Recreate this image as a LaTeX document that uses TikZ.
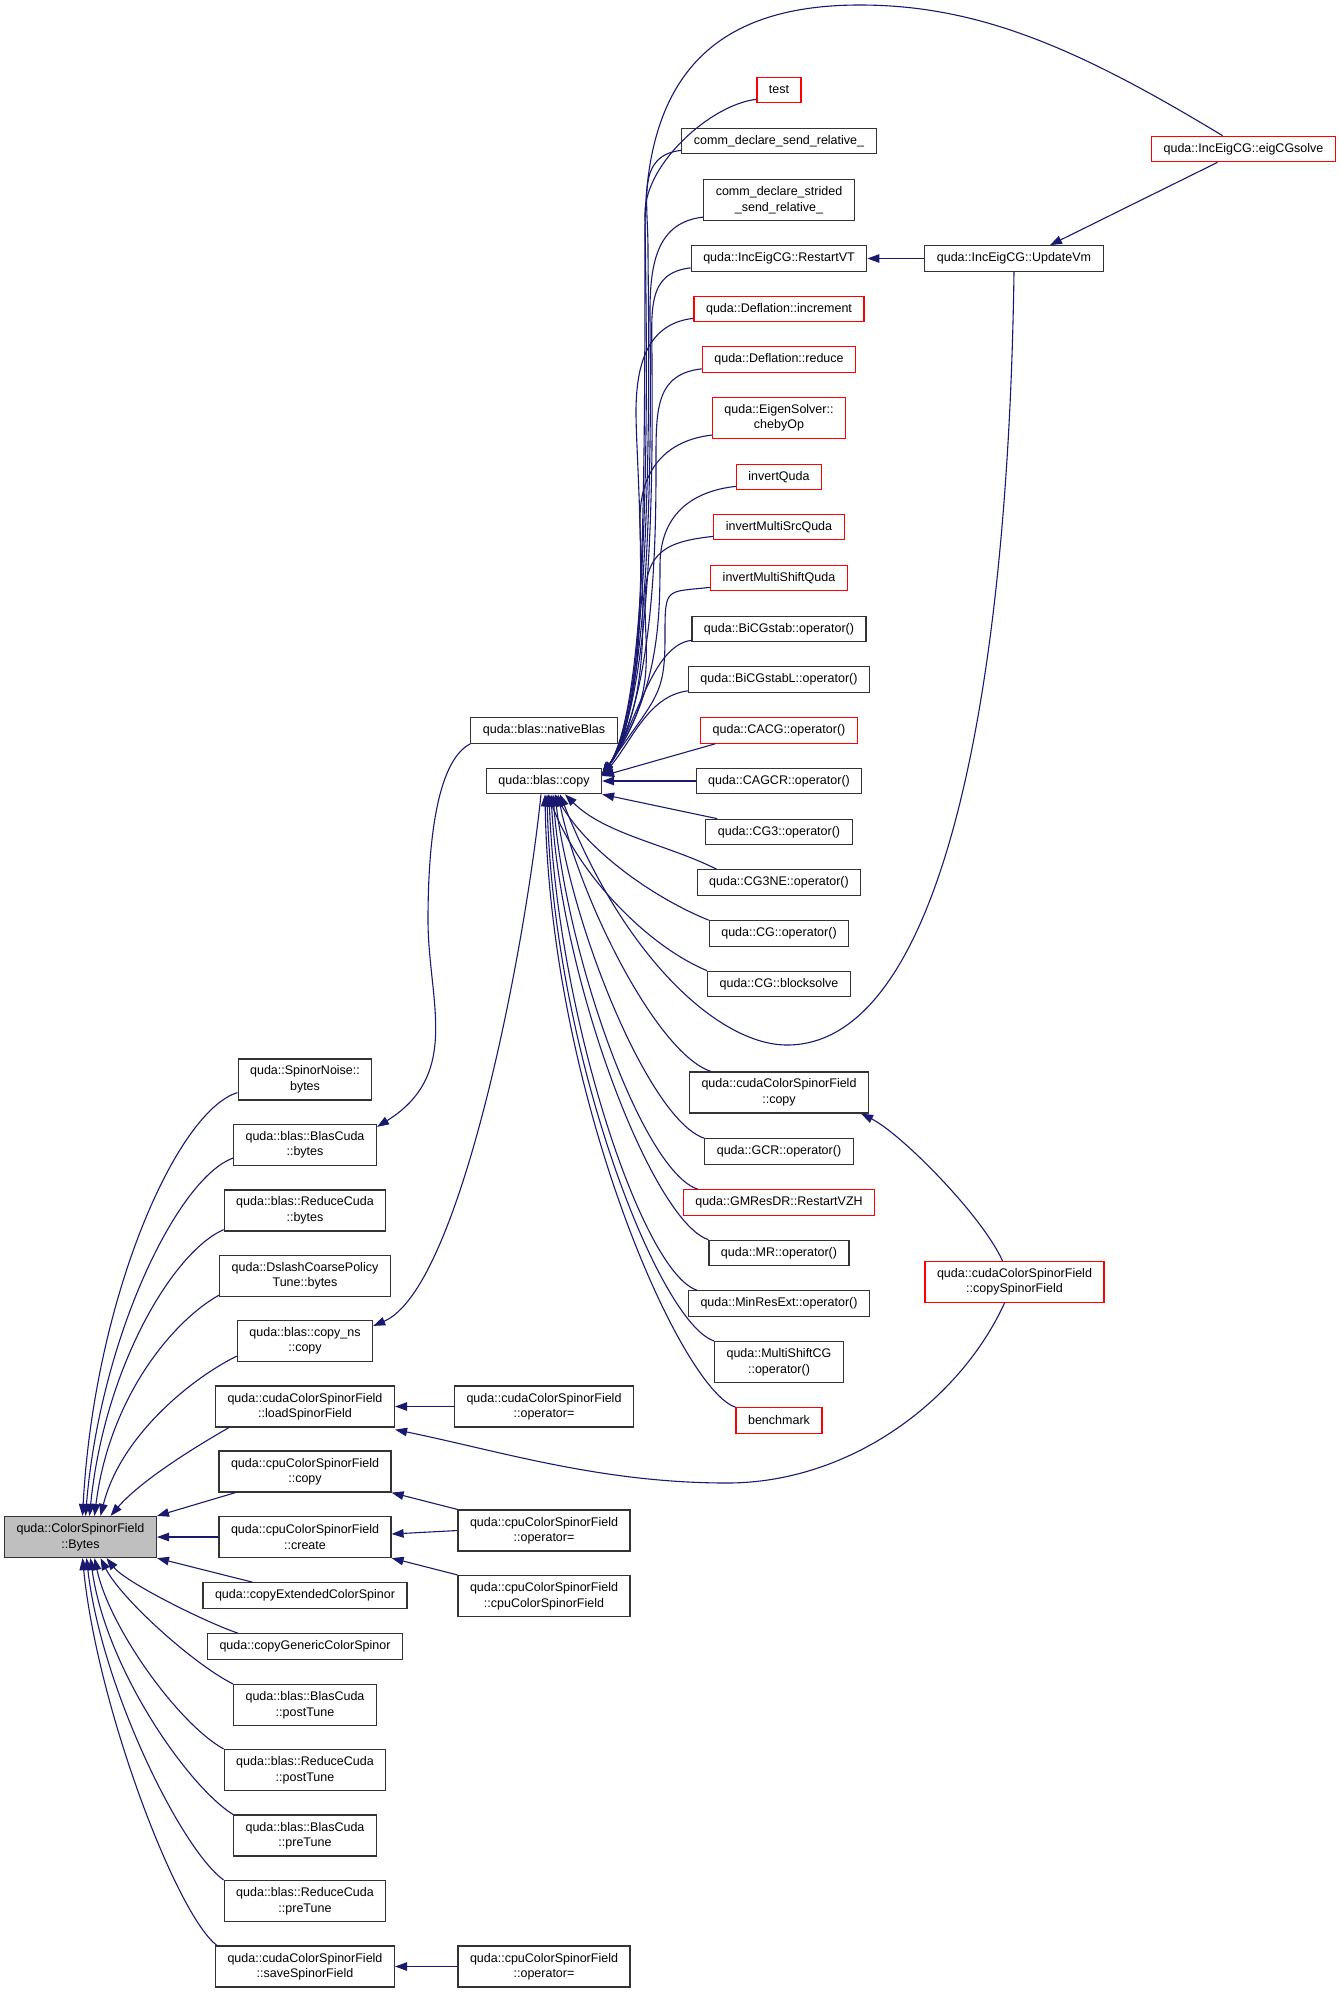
\documentclass[tikz,border=0pt]{standalone}
\usepackage{fontspec}
\setmainfont{Liberation Sans}
\usetikzlibrary{arrows.meta,calc}
\definecolor{edgeblue}{HTML}{191970}
\definecolor{rootgray}{HTML}{BFBFBF}

\begin{document}
\begin{tikzpicture}[x=1pt,y=-1pt,
    func/.style={draw=black!80, line width=1.2pt, minimum height=25.5pt, inner xsep=12pt, inner ysep=0pt,
      align=center, font=\fontsize{12.5}{15.5}\selectfont},
    func2/.style={func, minimum height=41pt},
    missing/.style={draw=red},
    focus/.style={fill=rootgray},
    calledge/.style={draw=edgeblue, line width=1.1pt, -{Triangle[length=12pt,width=8.5pt]}}]
      \useasboundingbox (0,0) rectangle (1340,1992);

      % the function itself
      \node[func2,focus] (bytes) at (80.5,1537) {quda::ColorSpinorField\\::Bytes};

      % direct callers
      \node[func2] (noise) at (305,1079.5) {quda::SpinorNoise::\\bytes};
      \node[func2] (blasbytes) at (305,1145) {quda::blas::BlasCuda\\::bytes};
      \node[func2] (reducebytes) at (305,1210.5) {quda::blas::ReduceCuda\\::bytes};
      \node[func2] (dslash) at (305,1276) {quda::DslashCoarsePolicy\\Tune::bytes};
      \node[func2] (copyns) at (305,1341) {quda::blas::copy\_ns\\::copy};
      \node[func2] (loadsf) at (305,1406.5) {quda::cudaColorSpinorField\\::loadSpinorField};
      \node[func2] (cpucopy) at (305,1471.5) {quda::cpuColorSpinorField\\::copy};
      \node[func2] (create) at (305,1537) {quda::cpuColorSpinorField\\::create};
      \node[func] (copyext) at (305,1595.5) {quda::copyExtendedColorSpinor};
      \node[func] (copygen) at (305,1646.5) {quda::copyGenericColorSpinor};
      \node[func2] (blaspost) at (305,1705) {quda::blas::BlasCuda\\::postTune};
      \node[func2] (reducepost) at (305,1770) {quda::blas::ReduceCuda\\::postTune};
      \node[func2] (blaspre) at (305,1835.5) {quda::blas::BlasCuda\\::preTune};
      \node[func2] (reducepre) at (305,1901) {quda::blas::ReduceCuda\\::preTune};
      \node[func2] (savesf) at (305,1966.5) {quda::cudaColorSpinorField\\::saveSpinorField};

      % third column
      \node[func] (nativeblas) at (544,730.5) {quda::blas::nativeBlas};
      \node[func] (copy) at (544,781) {quda::blas::copy};
      \node[func2] (cudaop) at (544,1406.5) {quda::cudaColorSpinorField\\::operator=};
      \node[func2] (cpuopa) at (544,1530.5) {quda::cpuColorSpinorField\\::operator=};
      \node[func2] (cpuctor) at (544,1596) {quda::cpuColorSpinorField\\::cpuColorSpinorField};
      \node[func2] (cpuopb) at (544,1966.5) {quda::cpuColorSpinorField\\::operator=};

      % callers of blas::copy
      \node[func,missing] (test) at (779,90) {test};
      \node[func] (sendrel) at (779,141) {comm\_declare\_send\_relative\_};
      \node[func2] (stridedrel) at (779,200) {comm\_declare\_strided\\\_send\_relative\_};
      \node[func] (restartvt) at (779,258.5) {quda::IncEigCG::RestartVT};
      \node[func,missing] (increment) at (779,309) {quda::Deflation::increment};
      \node[func,missing] (reduce) at (779,359.5) {quda::Deflation::reduce};
      \node[func2,missing] (chebyop) at (779,418) {quda::EigenSolver::\\chebyOp};
      \node[func,missing] (invert) at (779,477) {invertQuda};
      \node[func,missing] (invertsrc) at (779,527) {invertMultiSrcQuda};
      \node[func,missing] (invertshift) at (779,578) {invertMultiShiftQuda};
      \node[func] (bicgstab) at (779,629) {quda::BiCGstab::operator()};
      \node[func] (bicgstabl) at (779,679.5) {quda::BiCGstabL::operator()};
      \node[func,missing] (cacg) at (779,730.5) {quda::CACG::operator()};
      \node[func] (cagcr) at (779,781) {quda::CAGCR::operator()};
      \node[func] (cgthree) at (779,832) {quda::CG3::operator()};
      \node[func] (cgthreene) at (779,882.5) {quda::CG3NE::operator()};
      \node[func] (cgop) at (779,933.5) {quda::CG::operator()};
      \node[func] (blocksolve) at (779,984) {quda::CG::blocksolve};
      \node[func2] (cudacopy) at (779,1092.5) {quda::cudaColorSpinorField\\::copy};
      \node[func] (gcr) at (779,1151.5) {quda::GCR::operator()};
      \node[func,missing] (gmresdr) at (779,1202.5) {quda::GMResDR::RestartVZH};
      \node[func] (mr) at (779,1253) {quda::MR::operator()};
      \node[func] (minresext) at (779,1303.5) {quda::MinResExt::operator()};
      \node[func2] (multishift) at (779,1362) {quda::MultiShiftCG\\::operator()};
      \node[func,missing] (benchmark) at (779,1420.5) {benchmark};

      % outer callers
      \node[func] (updatevm) at (1014,258.5) {quda::IncEigCG::UpdateVm};
      \node[func2,missing] (copysf) at (1014.5,1282) {quda::cudaColorSpinorField\\::copySpinorField};
      \node[func,missing] (eigcg) at (1243.5,149) {quda::IncEigCG::eigCGsolve};

      \coordinate (arctop) at (860,5);
      \coordinate (arcside) at (645,230);
      \coordinate (vmbend) at (787,1045);
      \coordinate (sfbend) at (727,1483);
      \coordinate (nbbend) at (428,920);

      % into Bytes
      \draw[calledge] ([yshift=8pt]noise.south west) .. controls +(-60,18) and +(12,-220) .. ([xshift=2pt]bytes.north);
      \draw[calledge] ([yshift=8pt]blasbytes.south west) .. controls +(-55,20) and +(15,-180) .. ([xshift=5pt]bytes.north);
      \draw[calledge] ([yshift=2pt]reducebytes.south west) .. controls +(-50,22) and +(15,-150) .. ([xshift=9pt]bytes.north);
      \draw[calledge] ([yshift=2pt]dslash.south west) .. controls +(-45,25) and +(15,-120) .. ([xshift=14pt]bytes.north);
      \draw[calledge] ([yshift=6pt]copyns.south west) .. controls +(-45,22) and +(20,-80) .. ([xshift=20pt]bytes.north);
      \draw[calledge] ([xshift=14pt]loadsf.south west) .. controls +(-35,20) and +(30,-35) .. ([xshift=30pt]bytes.north);
      \draw[calledge] ([xshift=17pt]cpucopy.south west) -- (bytes.north east);
      \draw[calledge] (create.west) -- (bytes.east);
      \draw[calledge] ([xshift=50pt]copyext.north west) -- (bytes.south east);
      \draw[calledge] ([xshift=31pt]copygen.north west) .. controls +(-30,-10) and +(20,25) .. ([xshift=26pt]bytes.south);
      \draw[calledge] (blaspost.north west) .. controls +(-40,-20) and +(20,40) .. ([xshift=20pt]bytes.south);
      \draw[calledge] (reducepost.north west) .. controls +(-45,-25) and +(15,70) .. ([xshift=14pt]bytes.south);
      \draw[calledge] (blaspre.north west) .. controls +(-45,-28) and +(15,110) .. ([xshift=10pt]bytes.south);
      \draw[calledge] (reducepre.north west) .. controls +(-42,-30) and +(15,130) .. ([xshift=6pt]bytes.south);
      \draw[calledge] ([xshift=2pt]savesf.north west) .. controls +(-40,-30) and +(15,150) .. ([xshift=2pt]bytes.south);

      % into the second column
      \draw[calledge] (nativeblas.south west) .. controls +(-35,18) and +(0,-70) .. (nbbend) .. controls +(0,80) and +(85,-53) .. ([yshift=-3pt]blasbytes.north east);
      \draw[calledge] ([xshift=-3pt]copy.south) .. controls +(-16,156) and +(87,-37) .. ([yshift=-6pt]copyns.north east);
      \draw[calledge] (cudaop.west) -- (loadsf.east);
      \draw[calledge] ([xshift=-10pt]copysf.south) .. controls +(-45,98) and +(123,0) .. (sfbend) .. controls +(-127,0) and +(103,21) .. ([yshift=-2pt]loadsf.south east);
      \draw[calledge] (cpuopa.north west) -- (cpucopy.south east);
      \draw[calledge] (cpuopa.west) -- ([yshift=3pt]create.east);
      \draw[calledge] (cpuctor.north west) -- (create.south east);
      \draw[calledge] (cpuopb.west) -- (savesf.east);

      % into blas::copy
      \foreach \n/\s/\d in {test/645/110,sendrel/648/95,stridedrel/650/90,restartvt/652/90,increment/636/90,reduce/656/85,chebyop/640/80,invert/660/75,invertsrc/645/60,invertshift/665/45}{
        \coordinate (sp) at (\s,0);
        \draw[calledge] ([yshift=4pt]\n.south west) .. controls +(-45,5) and +(0,-50) .. ($(\n.south west -| sp)+(0,\d)$) .. controls +(0,60) and +(55,-80) .. ([yshift=6pt]copy.east);
      }
      \draw[calledge] ([yshift=2pt]bicgstab.south west) .. controls +(-40,5) and +(35,-50) .. ([yshift=6pt]copy.east);
      \draw[calledge] ([yshift=2pt]bicgstabl.south west) .. controls +(-40,5) and +(30,-35) .. ([yshift=5pt]copy.east);
      \draw[calledge] ([xshift=15pt]cacg.south west) -- ([yshift=5pt]copy.east);
      \draw[calledge] (cagcr.west) -- (copy.east);
      \draw[calledge] ([xshift=12pt]cgthree.north west) -- (copy.south east);
      \draw[calledge] ([xshift=20pt]cgthreene.north west) .. controls +(-50,-25) and +(40,40) .. ([xshift=21pt]copy.south);
      \draw[calledge] (cgop.north west) .. controls +(-50,-20) and +(35,60) .. ([xshift=11pt]copy.south);
      \draw[calledge] (blocksolve.north west) .. controls +(-60,-25) and +(30,80) .. ([xshift=4pt]copy.south);
      \foreach \n/\sx/\cx/\cy/\e in {cudacopy/22/20/100/14,gcr/0/15/130/11,gmresdr/15/12/160/9,mr/0/10/190/7,minresext/9/8/220/5,multishift/0/6/260/3,benchmark/0/5/300/1}
        \draw[calledge] ([xshift=\sx pt]\n.north west) .. controls +(-55,-18) and +(\cx,\cy) .. ([xshift=\e pt]copy.south);
      \draw[calledge] ([xshift=-21pt]eigcg.north) .. controls +(-142,-86) and +(120,0) .. (arctop) .. controls +(-140,0) and +(0,-160) .. (arcside) .. controls +(0,330) and +(40,-45) .. ([yshift=8pt]copy.east);
      \draw[calledge] (updatevm.south) .. controls +(-6,430) and +(153,0) .. (vmbend) .. controls +(-67,0) and +(65,165) .. ([xshift=16pt]copy.south);

      % outer edges
      \draw[calledge] (updatevm.west) -- (restartvt.east);
      \draw[calledge] ([xshift=-26pt]eigcg.south) -- ([xshift=36pt]updatevm.north);
      \draw[calledge] ([xshift=-12pt]copysf.north) .. controls +(-20,-45) and +(40,20) .. ([xshift=-8pt]cudacopy.south east);
\end{tikzpicture}
\end{document}
